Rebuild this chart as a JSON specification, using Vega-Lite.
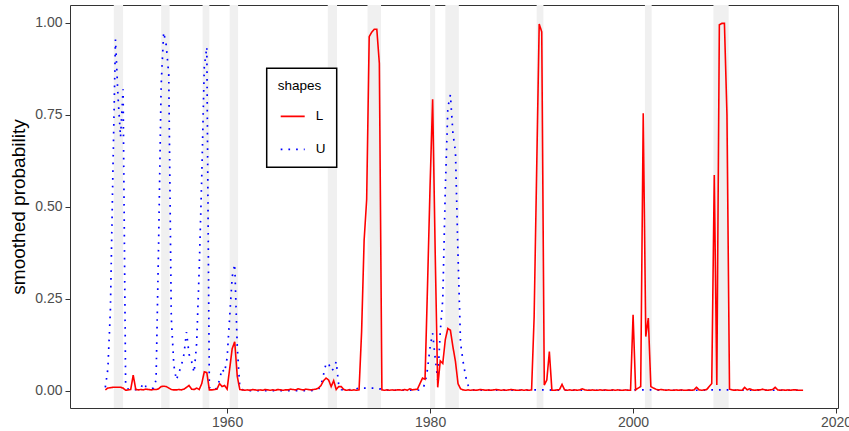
{
  "$schema": "https://vega.github.io/schema/vega-lite/v6.json",
  "width": 768,
  "height": 403,
  "autosize": {"type": "none"},
  "padding": {"left": 70, "top": 5, "right": 11, "bottom": 23},
  "background": "white",
  "config": {
    "font": "Liberation Sans",
    "view": {"stroke": "#333333", "strokeWidth": 1},
    "axis": {
      "domain": false,
      "grid": false,
      "tickColor": "#333333",
      "tickSize": 5,
      "labelColor": "#4d4d4d",
      "labelFont": "Liberation Sans",
      "labelFontSize": 14,
      "titleFont": "Liberation Sans",
      "titleFontWeight": "normal",
      "titleColor": "black",
      "titleFontSize": 19
    }
  },
  "datasets": {
    "rec": [
      {"s": 1948.833, "e": 1949.75},
      {"s": 1953.5, "e": 1954.333},
      {"s": 1957.583, "e": 1958.25},
      {"s": 1960.25, "e": 1961.083},
      {"s": 1969.917, "e": 1970.833},
      {"s": 1973.833, "e": 1975.167},
      {"s": 1980.0, "e": 1980.5},
      {"s": 1981.5, "e": 1982.833},
      {"s": 1990.5, "e": 1991.167},
      {"s": 2001.167, "e": 2001.833},
      {"s": 2007.917, "e": 2009.417}
    ],
    "prob": [
      {"t":1948,"L":0.003,"U":0.01},{"t":1948.25,"L":0.008,"U":0.06},{"t":1948.5,"L":0.009,"U":0.22},{"t":1948.75,"L":0.01,"U":0.6},
      {"t":1949,"L":0.01,"U":0.955},{"t":1949.25,"L":0.01,"U":0.8},{"t":1949.5,"L":0.01,"U":0.69},{"t":1949.75,"L":0.008,"U":0.82},
      {"t":1950,"L":0.002,"U":0.02},{"t":1950.25,"L":0.003,"U":0.005},{"t":1950.5,"L":0.004,"U":0.003},{"t":1950.75,"L":0.043,"U":0.004},
      {"t":1951,"L":0.004,"U":0.004},{"t":1951.25,"L":0.003,"U":0.005},{"t":1951.5,"L":0.004,"U":0.008},{"t":1951.75,"L":0.003,"U":0.022},
      {"t":1952,"L":0.005,"U":0.012},{"t":1952.25,"L":0.004,"U":0.01},{"t":1952.5,"L":0.003,"U":0.006},{"t":1952.75,"L":0.004,"U":0.008},
      {"t":1953,"L":0.004,"U":0.03},{"t":1953.25,"L":0.006,"U":0.4},{"t":1953.5,"L":0.012,"U":0.83},{"t":1953.75,"L":0.013,"U":0.975},
      {"t":1954,"L":0.012,"U":0.94},{"t":1954.25,"L":0.008,"U":0.86},{"t":1954.5,"L":0.004,"U":0.2},{"t":1954.75,"L":0.003,"U":0.07},
      {"t":1955,"L":0.003,"U":0.03},{"t":1955.25,"L":0.004,"U":0.05},{"t":1955.5,"L":0.003,"U":0.07},{"t":1955.75,"L":0.005,"U":0.1},
      {"t":1956,"L":0.01,"U":0.16},{"t":1956.25,"L":0.015,"U":0.1},{"t":1956.5,"L":0.005,"U":0.08},{"t":1956.75,"L":0.004,"U":0.05},
      {"t":1957,"L":0.008,"U":0.13},{"t":1957.25,"L":0.004,"U":0.33},{"t":1957.5,"L":0.02,"U":0.58},{"t":1957.75,"L":0.052,"U":0.88},
      {"t":1958,"L":0.05,"U":0.935},{"t":1958.25,"L":0.003,"U":0.01},{"t":1958.5,"L":0.003,"U":0.003},{"t":1958.75,"L":0.004,"U":0.003},
      {"t":1959,"L":0.005,"U":0.008},{"t":1959.25,"L":0.02,"U":0.03},{"t":1959.5,"L":0.012,"U":0.06},{"t":1959.75,"L":0.015,"U":0.05},
      {"t":1960,"L":0.005,"U":0.09},{"t":1960.25,"L":0.06,"U":0.2},{"t":1960.5,"L":0.115,"U":0.31},{"t":1960.75,"L":0.134,"U":0.345},
      {"t":1961,"L":0.04,"U":0.12},{"t":1961.25,"L":0.004,"U":0.01},{"t":1961.5,"L":0.003,"U":0.004},{"t":1961.75,"L":0.002,"U":0.002},
      {"t":1962,"L":0.003,"U":0.001},{"t":1962.25,"L":0.002,"U":0.001},{"t":1962.5,"L":0.004,"U":0.001},{"t":1962.75,"L":0.003,"U":0.001},
      {"t":1963,"L":0.002,"U":0.001},{"t":1963.25,"L":0.003,"U":0.001},{"t":1963.5,"L":0.002,"U":0.001},{"t":1963.75,"L":0.004,"U":0.001},
      {"t":1964,"L":0.003,"U":0.001},{"t":1964.25,"L":0.002,"U":0.001},{"t":1964.5,"L":0.003,"U":0.001},{"t":1964.75,"L":0.002,"U":0.001},
      {"t":1965,"L":0.004,"U":0.001},{"t":1965.25,"L":0.003,"U":0.001},{"t":1965.5,"L":0.002,"U":0.001},{"t":1965.75,"L":0.003,"U":0.001},
      {"t":1966,"L":0.003,"U":0.001},{"t":1966.25,"L":0.005,"U":0.001},{"t":1966.5,"L":0.004,"U":0.001},{"t":1966.75,"L":0.003,"U":0.001},
      {"t":1967,"L":0.006,"U":0.001},{"t":1967.25,"L":0.004,"U":0.001},{"t":1967.5,"L":0.003,"U":0.001},{"t":1967.75,"L":0.005,"U":0.001},
      {"t":1968,"L":0.004,"U":0.001},{"t":1968.25,"L":0.003,"U":0.001},{"t":1968.5,"L":0.004,"U":0.002},{"t":1968.75,"L":0.005,"U":0.002},
      {"t":1969,"L":0.008,"U":0.005},{"t":1969.25,"L":0.015,"U":0.015},{"t":1969.5,"L":0.028,"U":0.045},{"t":1969.75,"L":0.035,"U":0.075},
      {"t":1970,"L":0.03,"U":0.075},{"t":1970.25,"L":0.012,"U":0.055},{"t":1970.5,"L":0.028,"U":0.06},{"t":1970.75,"L":0.004,"U":0.08},
      {"t":1971,"L":0.012,"U":0.015},{"t":1971.25,"L":0.012,"U":0.004},{"t":1971.5,"L":0.004,"U":0.002},{"t":1971.75,"L":0.002,"U":0.002},
      {"t":1972,"L":0.003,"U":0.003},{"t":1972.25,"L":0.002,"U":0.004},{"t":1972.5,"L":0.003,"U":0.005},{"t":1972.75,"L":0.002,"U":0.006},
      {"t":1973,"L":0.003,"U":0.008},{"t":1973.25,"L":0.16,"U":0.008},{"t":1973.5,"L":0.41,"U":0.008},{"t":1973.75,"L":0.52,"U":0.008},
      {"t":1974,"L":0.963,"U":0.008},{"t":1974.25,"L":0.975,"U":0.008},{"t":1974.5,"L":0.983,"U":0.008},{"t":1974.75,"L":0.983,"U":0.008},
      {"t":1975,"L":0.89,"U":0.006},{"t":1975.25,"L":0.003,"U":0.006},{"t":1975.5,"L":0.002,"U":0.005},{"t":1975.75,"L":0.003,"U":0.003},
      {"t":1976,"L":0.002,"U":0.002},{"t":1976.25,"L":0.003,"U":0.002},{"t":1976.5,"L":0.002,"U":0.002},{"t":1976.75,"L":0.003,"U":0.002},
      {"t":1977,"L":0.003,"U":0.002},{"t":1977.25,"L":0.002,"U":0.002},{"t":1977.5,"L":0.004,"U":0.002},{"t":1977.75,"L":0.002,"U":0.002},
      {"t":1978,"L":0.006,"U":0.002},{"t":1978.25,"L":0.003,"U":0.002},{"t":1978.5,"L":0.004,"U":0.002},{"t":1978.75,"L":0.005,"U":0.002},
      {"t":1979,"L":0.02,"U":0.003},{"t":1979.25,"L":0.035,"U":0.006},{"t":1979.5,"L":0.032,"U":0.02},{"t":1979.75,"L":0.29,"U":0.06},
      {"t":1980,"L":0.56,"U":0.12},{"t":1980.25,"L":0.793,"U":0.157},{"t":1980.5,"L":0.38,"U":0.09},{"t":1980.75,"L":0.01,"U":0.03},
      {"t":1981,"L":0.082,"U":0.16},{"t":1981.25,"L":0.075,"U":0.25},{"t":1981.5,"L":0.14,"U":0.55},{"t":1981.75,"L":0.17,"U":0.77},
      {"t":1982,"L":0.165,"U":0.805},{"t":1982.25,"L":0.12,"U":0.7},{"t":1982.5,"L":0.08,"U":0.65},{"t":1982.75,"L":0.02,"U":0.37},
      {"t":1983,"L":0.006,"U":0.13},{"t":1983.25,"L":0.003,"U":0.08},{"t":1983.5,"L":0.002,"U":0.04},{"t":1983.75,"L":0.003,"U":0.015},
      {"t":1984,"L":0.002,"U":0.005},{"t":1984.25,"L":0.003,"U":0.003},{"t":1984.5,"L":0.002,"U":0.002},{"t":1984.75,"L":0.003,"U":0.002},
      {"t":1985,"L":0.004,"U":0.002},{"t":1985.25,"L":0.003,"U":0.002},{"t":1985.5,"L":0.002,"U":0.002},{"t":1985.75,"L":0.003,"U":0.002},
      {"t":1986,"L":0.002,"U":0.002},{"t":1986.25,"L":0.003,"U":0.002},{"t":1986.5,"L":0.004,"U":0.002},{"t":1986.75,"L":0.003,"U":0.002},
      {"t":1987,"L":0.002,"U":0.002},{"t":1987.25,"L":0.003,"U":0.002},{"t":1987.5,"L":0.002,"U":0.002},{"t":1987.75,"L":0.003,"U":0.002},
      {"t":1988,"L":0.004,"U":0.002},{"t":1988.25,"L":0.003,"U":0.002},{"t":1988.5,"L":0.002,"U":0.002},{"t":1988.75,"L":0.002,"U":0.002},
      {"t":1989,"L":0.003,"U":0.002},{"t":1989.25,"L":0.002,"U":0.002},{"t":1989.5,"L":0.003,"U":0.002},{"t":1989.75,"L":0.002,"U":0.002},
      {"t":1990,"L":0.003,"U":0.003},{"t":1990.25,"L":0.2,"U":0.003},{"t":1990.5,"L":0.6,"U":0.003},{"t":1990.75,"L":0.997,"U":0.003},
      {"t":1991,"L":0.976,"U":0.003},{"t":1991.25,"L":0.016,"U":0.003},{"t":1991.5,"L":0.03,"U":0.003},{"t":1991.75,"L":0.107,"U":0.003},
      {"t":1992,"L":0.002,"U":0.002},{"t":1992.25,"L":0.002,"U":0.002},{"t":1992.5,"L":0.003,"U":0.002},{"t":1992.75,"L":0.004,"U":0.002},
      {"t":1993,"L":0.018,"U":0.002},{"t":1993.25,"L":0.003,"U":0.002},{"t":1993.5,"L":0.002,"U":0.002},{"t":1993.75,"L":0.003,"U":0.002},
      {"t":1994,"L":0.002,"U":0.002},{"t":1994.25,"L":0.003,"U":0.002},{"t":1994.5,"L":0.002,"U":0.002},{"t":1994.75,"L":0.003,"U":0.002},
      {"t":1995,"L":0.006,"U":0.002},{"t":1995.25,"L":0.003,"U":0.002},{"t":1995.5,"L":0.002,"U":0.002},{"t":1995.75,"L":0.002,"U":0.002},
      {"t":1996,"L":0.003,"U":0.002},{"t":1996.25,"L":0.002,"U":0.002},{"t":1996.5,"L":0.002,"U":0.002},{"t":1996.75,"L":0.003,"U":0.002},
      {"t":1997,"L":0.002,"U":0.002},{"t":1997.25,"L":0.003,"U":0.002},{"t":1997.5,"L":0.002,"U":0.002},{"t":1997.75,"L":0.002,"U":0.002},
      {"t":1998,"L":0.003,"U":0.002},{"t":1998.25,"L":0.002,"U":0.002},{"t":1998.5,"L":0.003,"U":0.002},{"t":1998.75,"L":0.002,"U":0.002},
      {"t":1999,"L":0.002,"U":0.002},{"t":1999.25,"L":0.003,"U":0.002},{"t":1999.5,"L":0.002,"U":0.002},{"t":1999.75,"L":0.002,"U":0.003},
      {"t":2000,"L":0.207,"U":0.003},{"t":2000.25,"L":0.003,"U":0.003},{"t":2000.5,"L":0.008,"U":0.003},{"t":2000.75,"L":0.012,"U":0.003},
      {"t":2001,"L":0.755,"U":0.003},{"t":2001.25,"L":0.148,"U":0.003},{"t":2001.5,"L":0.198,"U":0.003},{"t":2001.75,"L":0.012,"U":0.003},
      {"t":2002,"L":0.008,"U":0.002},{"t":2002.25,"L":0.005,"U":0.002},{"t":2002.5,"L":0.003,"U":0.002},{"t":2002.75,"L":0.004,"U":0.002},
      {"t":2003,"L":0.003,"U":0.002},{"t":2003.25,"L":0.002,"U":0.002},{"t":2003.5,"L":0.003,"U":0.002},{"t":2003.75,"L":0.002,"U":0.002},
      {"t":2004,"L":0.002,"U":0.002},{"t":2004.25,"L":0.003,"U":0.002},{"t":2004.5,"L":0.002,"U":0.002},{"t":2004.75,"L":0.003,"U":0.002},
      {"t":2005,"L":0.002,"U":0.002},{"t":2005.25,"L":0.002,"U":0.002},{"t":2005.5,"L":0.003,"U":0.002},{"t":2005.75,"L":0.002,"U":0.002},
      {"t":2006,"L":0.003,"U":0.002},{"t":2006.25,"L":0.01,"U":0.002},{"t":2006.5,"L":0.003,"U":0.002},{"t":2006.75,"L":0.002,"U":0.002},
      {"t":2007,"L":0.003,"U":0.002},{"t":2007.25,"L":0.004,"U":0.002},{"t":2007.5,"L":0.012,"U":0.003},{"t":2007.75,"L":0.02,"U":0.003},
      {"t":2008,"L":0.587,"U":0.003},{"t":2008.25,"L":0.016,"U":0.003},{"t":2008.5,"L":0.995,"U":0.003},{"t":2008.75,"L":0.999,"U":0.003},
      {"t":2009,"L":0.999,"U":0.003},{"t":2009.25,"L":0.75,"U":0.003},{"t":2009.5,"L":0.005,"U":0.003},{"t":2009.75,"L":0.003,"U":0.002},
      {"t":2010,"L":0.002,"U":0.002},{"t":2010.25,"L":0.003,"U":0.002},{"t":2010.5,"L":0.002,"U":0.002},{"t":2010.75,"L":0.002,"U":0.002},
      {"t":2011,"L":0.01,"U":0.002},{"t":2011.25,"L":0.003,"U":0.002},{"t":2011.5,"L":0.006,"U":0.002},{"t":2011.75,"L":0.003,"U":0.002},
      {"t":2012,"L":0.002,"U":0.002},{"t":2012.25,"L":0.003,"U":0.002},{"t":2012.5,"L":0.003,"U":0.002},{"t":2012.75,"L":0.005,"U":0.002},
      {"t":2013,"L":0.003,"U":0.002},{"t":2013.25,"L":0.002,"U":0.002},{"t":2013.5,"L":0.003,"U":0.002},{"t":2013.75,"L":0.004,"U":0.002},
      {"t":2014,"L":0.01,"U":0.002},{"t":2014.25,"L":0.003,"U":0.002},{"t":2014.5,"L":0.002,"U":0.002},{"t":2014.75,"L":0.003,"U":0.002},
      {"t":2015,"L":0.002,"U":0.002},{"t":2015.25,"L":0.003,"U":0.002},{"t":2015.5,"L":0.002,"U":0.002},{"t":2015.75,"L":0.003,"U":0.002},
      {"t":2016,"L":0.003,"U":0.002},{"t":2016.25,"L":0.002,"U":0.002},{"t":2016.5,"L":0.002,"U":0.002},{"t":2016.75,"L":0.002,"U":0.002}
    ]
  },
  "layer": [
    {
      "data": {"name": "rec"},
      "mark": {"type": "rect", "color": "#f0f0f0"},
      "encoding": {
        "x": {"field": "s", "type": "quantitative"},
        "x2": {"field": "e"}
      }
    },
    {
      "data": {"name": "prob"},
      "transform": [
        {"fold": ["L", "U"], "as": ["shapes", "p"]},
        {"filter": "datum.shapes === 'U'"}
      ],
      "mark": {"type": "line", "strokeWidth": 1.7, "strokeCap": "butt"},
      "encoding": {
        "x": {"field": "t", "type": "quantitative"},
        "y": {"field": "p", "type": "quantitative"},
        "color": {"field": "shapes", "type": "nominal"},
        "strokeDash": {"field": "shapes", "type": "nominal"}
      }
    },
    {
      "data": {"name": "prob"},
      "transform": [
        {"fold": ["L", "U"], "as": ["shapes", "p"]},
        {"filter": "datum.shapes === 'L'"}
      ],
      "mark": {"type": "line", "strokeWidth": 1.6},
      "encoding": {
        "x": {
          "field": "t",
          "type": "quantitative",
          "title": null,
          "scale": {"domain": [1944.52, 2020.19], "nice": false, "zero": false},
          "axis": {"values": [1960, 1980, 2000, 2020], "format": "d", "labelPadding": 2}
        },
        "y": {
          "field": "p",
          "type": "quantitative",
          "title": "smoothed probability",
          "scale": {"domain": [-0.0462, 1.0489], "nice": false, "zero": false},
          "axis": {
            "values": [0, 0.25, 0.5, 0.75, 1],
            "format": ".2f",
            "labelPadding": 3,
            "titleX": -52,
            "titleBaseline": "middle"
          }
        },
        "color": {
          "field": "shapes",
          "type": "nominal",
          "scale": {"domain": ["L", "U"], "range": ["#ff0000", "#0000ff"]},
          "legend": {
            "title": "shapes",
            "orient": "none",
            "legendX": 196.7,
            "legendY": 63.3,
            "padding": 11,
            "fillColor": "white",
            "strokeColor": "black",
            "titleFontSize": 13.5,
            "titleFontWeight": "normal",
            "titleColor": "black",
            "titlePadding": 10.5,
            "labelFontSize": 13.5,
            "labelColor": "black",
            "labelOffset": 10,
            "symbolType": "stroke",
            "symbolSize": 576,
            "symbolStrokeWidth": 1.7,
            "symbolOffset": 2,
            "rowPadding": 13,
            "encode": {"legend": {"update": {"strokeWidth": {"value": 1.5}}}}
          }
        },
        "strokeDash": {
          "field": "shapes",
          "type": "nominal",
          "scale": {"domain": ["L", "U"], "range": [[1, 0], [1.7, 6]]}
        }
      }
    }
  ]
}
